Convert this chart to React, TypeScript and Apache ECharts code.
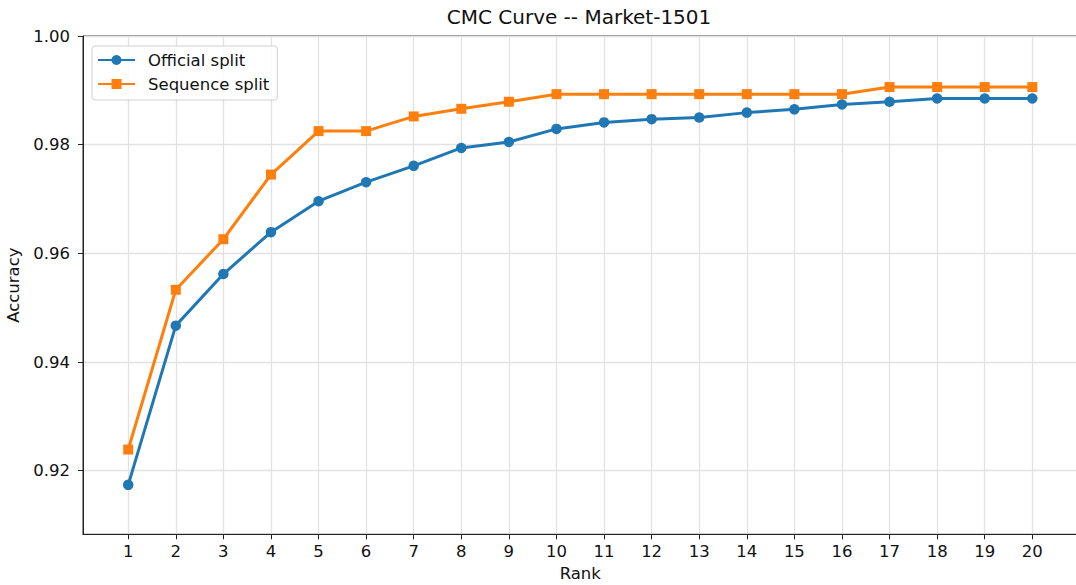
import React, { useEffect, useRef } from "react";
import * as echarts from "echarts";

// Rank positions on the x axis
const ranks: number[] = [1, 2, 3, 4, 5, 6, 7, 8, 9, 10, 11, 12, 13, 14, 15, 16, 17, 18, 19, 20];

// CMC accuracy per rank
const officialSplit: number[] = [
  0.9174, 0.9467, 0.9562, 0.9639, 0.9696, 0.9731, 0.9761, 0.9794, 0.9805, 0.9829,
  0.9841, 0.9847, 0.985, 0.9859, 0.9865, 0.9874, 0.9879, 0.9885, 0.9885, 0.9885,
];
const sequenceSplit: number[] = [
  0.9239, 0.9533, 0.9626, 0.9745, 0.9825, 0.9825, 0.9852, 0.9866, 0.9879, 0.9893,
  0.9893, 0.9893, 0.9893, 0.9893, 0.9893, 0.9893, 0.9906, 0.9906, 0.9906, 0.9906,
];

const yTicks: number[] = [0.92, 0.94, 0.96, 0.98, 1.0];

const FONT = "DejaVu Sans";
const TEXT = "#111";
const SPINE = "#222";
const GRID = "#e2e2e2";

export default function App() {
  const ref = useRef<HTMLDivElement>(null);

  useEffect(() => {
    if (!ref.current) return;
    const chart = echarts.init(ref.current, undefined, { renderer: "svg" });

    const pairs = (vals: number[]) => ranks.map((r, i) => [r, vals[i]]);

    chart.setOption({
      animation: false,
      backgroundColor: "#fff",
      textStyle: { fontFamily: FONT, color: TEXT },
      title: {
        text: "CMC Curve -- Market-1501",
        left: 579,
        top: 7,
        textAlign: "center",
        padding: 0,
        textStyle: { fontFamily: FONT, fontSize: 20, fontWeight: "normal", color: TEXT },
      },
      legend: {
        orient: "vertical",
        left: 92,
        top: 46,
        padding: [5, 8, 7, 5],
        itemWidth: 37,
        itemHeight: 12.5,
        itemGap: 6,
        borderColor: "#d0d0d0",
        borderWidth: 1,
        borderRadius: 3,
        backgroundColor: "rgba(255,255,255,0.85)",
        textStyle: {
          fontFamily: FONT,
          fontSize: 16.5,
          color: TEXT,
          lineHeight: 18,
          padding: [0, 0, 0, 8],
        },
        data: ["Official split", "Sequence split"],
      },
      grid: {
        left: 83,
        right: -1.5,
        top: 36,
        bottom: 50.7,
        outerBoundsMode: "none",
        containLabel: false,
        show: true,
        borderColor: SPINE,
        borderWidth: 1,
        backgroundColor: "transparent",
      },
      xAxis: {
        type: "value",
        min: 0.05,
        max: 20.95,
        name: "Rank",
        nameLocation: "middle",
        nameGap: 31,
        nameTextStyle: { fontFamily: FONT, fontSize: 16.5, color: TEXT },
        axisLine: { show: true, lineStyle: { color: SPINE, width: 1 } },
        axisTick: {
          show: true,
          length: 5,
          customValues: ranks,
          lineStyle: { color: SPINE, width: 1 },
        },
        axisLabel: {
          customValues: ranks,
          margin: 9,
          fontFamily: FONT,
          fontSize: 16.5,
          color: TEXT,
        },
        splitLine: { show: true, lineStyle: { color: GRID, width: 1.3 } },
      },
      yAxis: {
        type: "value",
        min: 0.9083,
        max: 1.0,
        name: "Accuracy",
        nameLocation: "middle",
        nameGap: 58,
        nameTextStyle: { fontFamily: FONT, fontSize: 16.5, color: TEXT },
        axisLine: { show: true, lineStyle: { color: SPINE, width: 1 } },
        axisTick: {
          show: true,
          length: 5,
          customValues: yTicks,
          lineStyle: { color: SPINE, width: 1 },
        },
        axisLabel: {
          customValues: yTicks,
          margin: 13,
          fontFamily: FONT,
          fontSize: 16.5,
          color: TEXT,
          formatter: (v: number) => v.toFixed(2),
        },
        splitLine: { show: true, lineStyle: { color: GRID, width: 1.3 } },
      },
      series: [
        {
          name: "Official split",
          type: "line",
          data: pairs(officialSplit),
          symbol: "circle",
          symbolSize: 10.5,
          showSymbol: true,
          color: "#1f77b4",
          lineStyle: { color: "#1f77b4", width: 3 },
          itemStyle: { color: "#1f77b4" },
          emphasis: { disabled: true },
          z: 2,
        },
        {
          name: "Sequence split",
          type: "line",
          data: pairs(sequenceSplit),
          symbol: "rect",
          symbolSize: 10,
          showSymbol: true,
          color: "#ff7f0e",
          lineStyle: { color: "#ff7f0e", width: 3 },
          itemStyle: { color: "#ff7f0e" },
          emphasis: { disabled: true },
          z: 3,
        },
      ],
    });

    return () => chart.dispose();
  }, []);

  return (
    <div
      ref={ref}
      style={{ position: "fixed", left: 0, top: 0, width: 1076, height: 585 }}
    />
  );
}
